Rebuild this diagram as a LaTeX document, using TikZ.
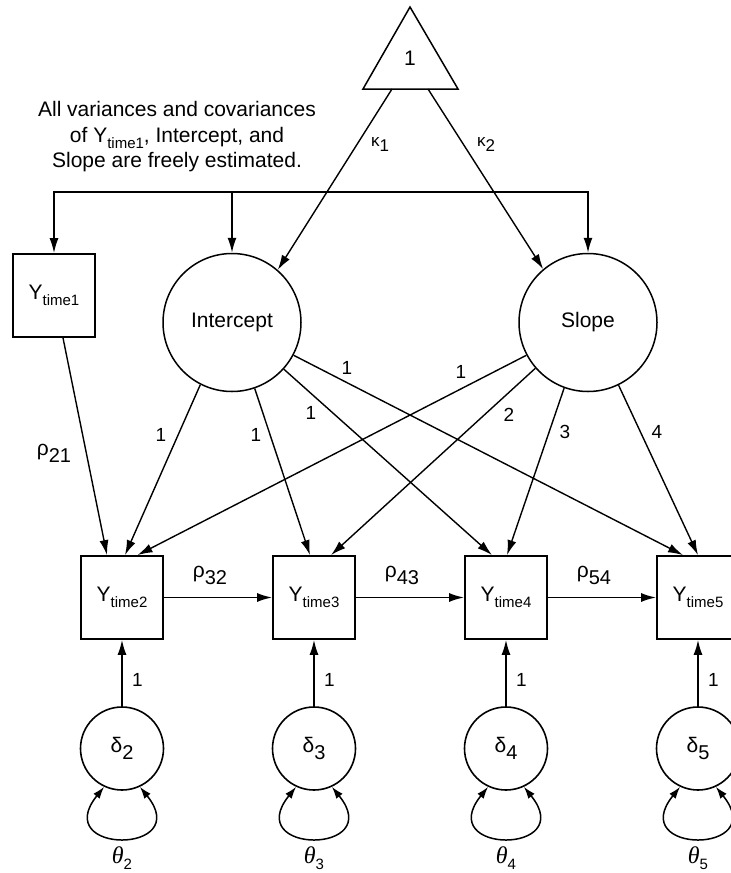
\documentclass[tikz,border=0pt]{standalone}
\usepackage{fontspec}
\setmainfont{Liberation Sans}
\newfontfamily\serifface{Liberation Serif}
\usetikzlibrary{arrows.meta}
\newcommand{\fs}[1]{\fontsize{#1}{#1}\selectfont}
\newcommand{\lsub}[3]{\raisebox{-#2pt}{\fs{#1}#3}}
\newcommand{\ysub}[1]{Y\lsub{15}{6}{#1}}
\begin{document}
\begin{tikzpicture}[x=1pt,y=-1pt, line width=1.4pt,
  >={Latex[length=15pt,width=9pt]},
  obs/.style={draw, line width=1.8pt, minimum width=82pt, minimum height=83pt, inner sep=0pt, font=\fs{21}},
  lat/.style={draw, line width=1.5pt, circle, minimum size=138pt, inner sep=0pt, font=\fs{21}},
  err/.style={draw, line width=1.6pt, circle, minimum size=83pt, inner sep=0pt, font=\fs{21}},
  lab/.style={font=\fs{19}, inner sep=0pt},
  glab/.style={font=\fs{21}, inner sep=0pt},
  selfloop/.style={line width=1.5pt, {Latex[length=12pt,width=8pt]}-{Latex[length=12pt,width=8pt]}}]
\useasboundingbox (0,0) rectangle (731,873);
\clip (0,0) rectangle (731,873);

% constant triangle
\coordinate (tA) at (410,7);
\coordinate (tL) at (363,89);
\coordinate (tR) at (458,89);
\draw[line join=miter, line width=1.5pt] (tA) -- (tL) -- (tR) -- cycle;
\node[font=\fs{21}] (one) at (410,58) {1};
\coordinate (k1s) at (392,89);
\coordinate (k2s) at (428,89);

% note
\node[align=center, font=\fontsize{21}{25.5}\selectfont, inner sep=0pt] (note) at (177,137)
  {All variances and covariances\\of \ysub{time1}, Intercept, and\\Slope are freely estimated.};

% nodes
\node[obs] (y1) at (54,295.5) {\ysub{time1}};
\node[lat] (int) at (232,322.5) {Intercept};
\node[lat] (slope) at (588,322.5) {Slope};

\node[obs] (y2) at (122,597.5) {\ysub{time2}};
\node[obs] (y3) at (314,597.5) {\ysub{time3}};
\node[obs] (y4) at (506,597.5) {\ysub{time4}};
\node[obs] (y5) at (698,597.5) {\ysub{time5}};

\node[err] (d2) at (122,748.5) {δ\lsub{20}{7}{2}};
\node[err] (d3) at (314,748.5) {δ\lsub{20}{7}{3}};
\node[err] (d4) at (506,748.5) {δ\lsub{20}{7}{4}};
\node[err] (d5) at (698,748.5) {δ\lsub{20}{7}{5}};

% covariance bracket
\coordinate (cL) at (54,192);
\coordinate (cM) at (232,192);
\coordinate (cR) at (588,192);
\draw[<->, line width=1.6pt] (y1.north) -- (cL) -- (cR) -- (slope.north);
\draw[->, line width=1.6pt] (cM) -- (int.north);

% means
\draw[->] (k1s) -- (int.49);
\draw[->] (k2s) -- (slope.130);
\node[font=\fs{17}] (k1) at (380,145) {κ\lsub{17}{5}{1}};
\node[font=\fs{17}] (k2) at (486,145) {κ\lsub{17}{5}{2}};

% autoregression from time1
\draw[->] ([xshift=9pt]y1.south) -- ([xshift=-15pt]y2.north);
\node[glab] (r21) at (54,453) {ρ\lsub{20}{7}{21}};

% intercept loadings
\draw[->] (int.243) -- ([xshift=3pt]y2.north);
\draw[->] (int.289) -- ([xshift=-4pt]y3.north);
\draw[->] (int.318) -- ([xshift=-14pt]y4.north);
\draw[->] (int.332) -- ([xshift=-15pt]y5.north);
% slope loadings
\draw[->] (slope.208) -- ([xshift=15.5pt]y2.north);
\draw[->] (slope.221) -- ([xshift=17pt]y3.north);
\draw[->] (slope.250) -- ([xshift=1pt]y4.north);
\draw[->] (slope.296) -- (y5.north);

\node[lab] (li2) at (161,435) {1};
\node[lab] (li3) at (256,435) {1};
\node[lab] (li4) at (311,413) {1};
\node[lab] (li5) at (347,368) {1};
\node[lab] (ls2) at (461,372) {1};
\node[lab] (ls3) at (509,415) {2};
\node[lab] (ls4) at (565,432) {3};
\node[lab] (ls5) at (657,432) {4};

% autoregressions
\draw[->, line width=1.6pt] (y2) -- (y3);
\draw[->, line width=1.6pt] (y3) -- (y4);
\draw[->, line width=1.6pt] (y4) -- (y5);
\node[glab] (r32) at (210,575) {ρ\lsub{20}{7}{32}};
\node[glab] (r43) at (402,575) {ρ\lsub{20}{7}{43}};
\node[glab] (r54) at (594,575) {ρ\lsub{20}{7}{54}};

% disturbances
\draw[->, line width=1.6pt] (d2) -- (y2);
\draw[->, line width=1.6pt] (d3) -- (y3);
\draw[->, line width=1.6pt] (d4) -- (y4);
\draw[->, line width=1.6pt] (d5) -- (y5);
\node[lab] (e2) at (137.5,680) {1};
\node[lab] (e3) at (329.5,680) {1};
\node[lab] (e4) at (521.5,680) {1};
\node[lab] (e5) at (713.5,680) {1};

\draw[selfloop] (d2.245) .. controls +(-55,68) and +(55,68) .. (d2.295);
\draw[selfloop] (d3.245) .. controls +(-55,68) and +(55,68) .. (d3.295);
\draw[selfloop] (d4.245) .. controls +(-55,68) and +(55,68) .. (d4.295);
\draw[selfloop] (d5.245) .. controls +(-55,68) and +(55,68) .. (d5.295);

\node (t2) at (122,858) {{\serifface\itshape\fs{24}θ}\lsub{15}{6}{2}};
\node (t3) at (314,858) {{\serifface\itshape\fs{24}θ}\lsub{15}{6}{3}};
\node (t4) at (506,858) {{\serifface\itshape\fs{24}θ}\lsub{15}{6}{4}};
\node (t5) at (698,858) {{\serifface\itshape\fs{24}θ}\lsub{15}{6}{5}};
\end{tikzpicture}
\end{document}
